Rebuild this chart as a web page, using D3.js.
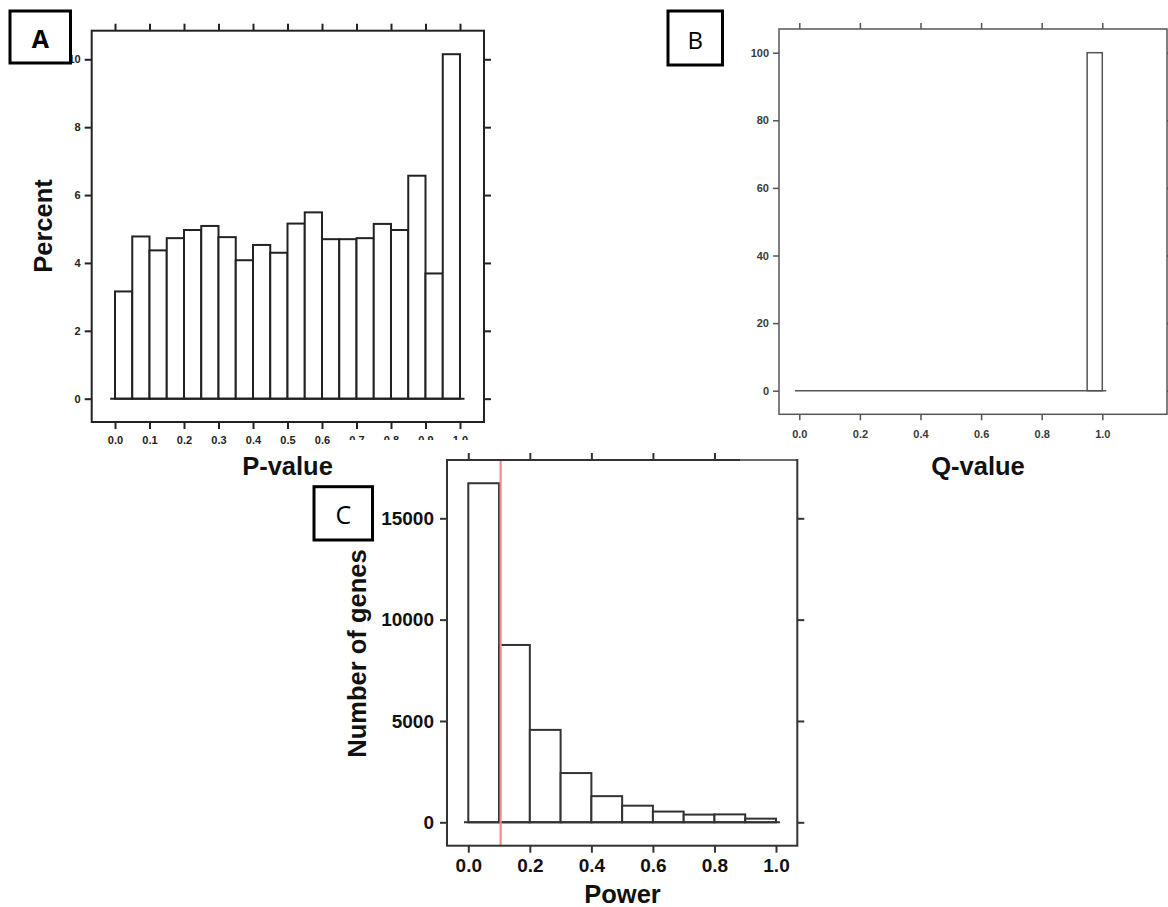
<!DOCTYPE html>
<html><head><meta charset="utf-8">
<script src="https://cdn.jsdelivr.net/npm/d3@7"></script>
<style>
html,body{margin:0;padding:0;background:#fff;}
svg{display:block;}
</style></head>
<body>
<svg id="chart" width="1168" height="907"></svg>
<script>
// ---------- DATA ----------
// Panel A: P-value histogram (bin width 0.05), percent
const pBinStarts = [0.00,0.05,0.10,0.15,0.20,0.25,0.30,0.35,0.40,0.45,0.50,0.55,0.60,0.65,0.70,0.75,0.80,0.85,0.90,0.95];
const pPercent   = [3.16,4.78,4.37,4.73,4.97,5.09,4.76,4.08,4.53,4.30,5.16,5.49,4.70,4.70,4.73,5.15,4.97,6.57,3.69,10.15];
const pXTicks = ["0.0","0.1","0.2","0.3","0.4","0.5","0.6","0.7","0.8","0.9","1.0"];
const pYTicks = [0,2,4,6,8,10];

// Panel B: Q-value histogram (bin width 0.05), percent
const qBinStarts = [0.00,0.05,0.10,0.15,0.20,0.25,0.30,0.35,0.40,0.45,0.50,0.55,0.60,0.65,0.70,0.75,0.80,0.85,0.90,0.95];
const qPercent   = [0,0,0,0,0,0,0,0,0,0,0,0,0,0,0,0,0,0,0,100];
const qXTicks = ["0.0","0.2","0.4","0.6","0.8","1.0"];
const qYTicks = [0,20,40,60,80,100];

// Panel C: Power histogram (bin width 0.1), number of genes
const powBinStarts = [0.0,0.1,0.2,0.3,0.4,0.5,0.6,0.7,0.8,0.9];
const powCounts    = [16730,8750,4560,2430,1290,820,530,380,390,180];
const powXTicks = ["0.0","0.2","0.4","0.6","0.8","1.0"];
const powYTicks = [0,5000,10000,15000];
const powThreshold = 0.105;

const panelLabels = ["A","B","C"];
const axisTitles = {A:["P-value","Percent"], B:["Q-value",""], C:["Power","Number of genes"]};

// ---------- DRAW ----------
const svg = d3.select("#chart");
const FONT = "'Liberation Sans', Arial, Helvetica, sans-serif";

function drawPanel(cfg){
  const g = svg.append("g");
  if (cfg.bg) {
    g.append("rect").attr("x",cfg.bg[0]).attr("y",cfg.bg[1]).attr("width",cfg.bg[2]).attr("height",cfg.bg[3]).attr("fill","#fff");
  }
  const x = d3.scaleLinear().domain([0,1]).range(cfg.xr);
  const y = d3.scaleLinear().domain([0,cfg.ymax]).range(cfg.yr);
  const [fx0,fy0,fx1,fy1] = cfg.frame;
  const col = cfg.color, sw = cfg.sw, tl = cfg.tickLen;

  // bars
  g.selectAll("rect.bar").data(cfg.starts.map((s,i)=>({s, v:cfg.values[i]})).filter(d=>d.v>0))
    .join("rect").attr("class","bar")
    .attr("x",d=>x(d.s)).attr("width",d=>x(d.s+cfg.bw)-x(d.s))
    .attr("y",d=>y(d.v)).attr("height",d=>y(0)-y(d.v))
    .attr("fill","#fff").attr("stroke",col).attr("stroke-width",sw);
  // baseline
  g.append("line").attr("x1",x(-0.014)).attr("x2",x(1.013)).attr("y1",y(0)).attr("y2",y(0))
    .attr("stroke",col).attr("stroke-width",sw);

  // reference line
  if (cfg.vline!=null){
    g.append("line").attr("x1",x(cfg.vline)).attr("x2",x(cfg.vline)).attr("y1",fy0).attr("y2",fy1)
      .attr("stroke","#f28a8c").attr("stroke-width",2.2);
  }

  // frame
  g.append("rect").attr("x",fx0).attr("y",fy0).attr("width",fx1-fx0).attr("height",fy1-fy0)
    .attr("fill","none").attr("stroke",col).attr("stroke-width",sw);
  if (cfg.fadeTop) {
    g.append("line").attr("x1",cfg.fadeTop).attr("x2",fx1-1).attr("y1",fy0).attr("y2",fy0)
      .attr("stroke","#6a6a6a").attr("stroke-width",sw);
  }

  // bottom axis
  const xTickVals = cfg.xticks.map(Number);
  const bx = d3.axisBottom(x).tickValues(xTickVals).tickSize(tl).tickSizeOuter(0).tickPadding(cfg.xpad)
    .tickFormat((d,i)=>cfg.xticks[i]);
  const gb = g.append("g").attr("transform",`translate(0,${fy1})`).call(bx);
  gb.select(".domain").remove();
  gb.selectAll("line").attr("stroke",col).attr("stroke-width",sw);
  gb.selectAll("text").attr("font-family",FONT).attr("font-size",cfg.fs).attr("font-weight","bold").attr("fill",cfg.tcol);

  // top ticks
  const topVals = cfg.topTicks ? cfg.topTicks : xTickVals;
  const tx = d3.axisTop(x).tickValues(topVals).tickSize(tl).tickSizeOuter(0).tickFormat("");
  const gt = g.append("g").attr("transform",`translate(0,${fy0})`).call(tx);
  gt.select(".domain").remove();
  gt.selectAll("line").attr("stroke",col).attr("stroke-width",sw);

  // left axis
  const ly = d3.axisLeft(y).tickValues(cfg.yticks).tickSize(tl).tickSizeOuter(0).tickPadding(cfg.ypad)
    .tickFormat(d3.format("d"));
  const gl = g.append("g").attr("transform",`translate(${fx0},0)`).call(ly);
  gl.select(".domain").remove();
  gl.selectAll("line").attr("stroke",col).attr("stroke-width",sw);
  gl.selectAll("text").attr("font-family",FONT).attr("font-size",cfg.fs).attr("font-weight","bold").attr("fill",cfg.tcol);

  // right ticks
  const ry = d3.axisRight(y).tickValues(cfg.yticks).tickSize(tl).tickSizeOuter(0).tickFormat("");
  const gr = g.append("g").attr("transform",`translate(${fx1},0)`).call(ry);
  gr.select(".domain").remove();
  gr.selectAll("line").attr("stroke",col).attr("stroke-width",sw);

  // axis titles
  g.append("text").attr("x",cfg.xt[0]).attr("y",cfg.xt[1]).attr("text-anchor","middle")
    .attr("dominant-baseline","central")
    .attr("font-family",FONT).attr("font-size",25.5).attr("font-weight","bold").attr("fill","#111")
    .text(cfg.titles[0]);
  if (cfg.titles[1]) {
    g.append("text").attr("transform",`translate(${cfg.yt[0]},${cfg.yt[1]}) rotate(-90)`)
      .attr("text-anchor","middle").attr("dominant-baseline","central")
      .attr("font-family",FONT).attr("font-size",25.5).attr("font-weight","bold").attr("fill","#111")
      .text(cfg.titles[1]);
  }

  // panel label box
  const [bx0,by0,bx1,by1] = cfg.box;
  g.append("rect").attr("x",bx0).attr("y",by0).attr("width",bx1-bx0).attr("height",by1-by0)
    .attr("fill","#fff").attr("stroke","#000").attr("stroke-width",3);
  g.append("text").attr("x",(bx0+bx1)/2).attr("y",(by0+by1)/2+1).attr("text-anchor","middle")
    .attr("dominant-baseline","central")
    .attr("font-family","'Open Sans', 'Liberation Sans', sans-serif").attr("font-size",cfg.boxFs)
    .attr("font-weight",cfg.boxBold?"bold":"normal").attr("fill","#000").text(cfg.label);
}

// Panel A
drawPanel({
  starts:pBinStarts, values:pPercent, bw:0.05, ymax:10,
  xr:[115,460], yr:[398.7,59.3], frame:[91.7,30.7,484,422],
  xticks:pXTicks, yticks:pYTicks, color:"#222", sw:2, tickLen:7, fs:11, tcol:"#222",
  xpad:7, ypad:4, xt:[287.5,466], yt:[43,226], titles:axisTitles.A,
  box:[10,11,70.5,63], label:panelLabels[0], boxFs:25, boxBold:true
});
// Panel B
drawPanel({
  starts:qBinStarts, values:qPercent, bw:0.05, ymax:100,
  xr:[799.3,1102.3], yr:[390.7,52.7], frame:[779,29,1167,414.3],
  xticks:qXTicks, yticks:qYTicks, color:"#555", sw:1.5, tickLen:6, fs:11, tcol:"#3a3a3a",
  xpad:10, ypad:4, xt:[978,466], yt:[0,0], titles:axisTitles.B,
  box:[668,11,722.5,65], label:panelLabels[1], boxFs:24, boxBold:false
});
// Panel C (its white background overlaps panel A's lower right corner)
drawPanel({
  bg:[338,440,482,467],
  starts:powBinStarts, values:powCounts, bw:0.1, ymax:15000,
  xr:[468.3,776], yr:[822.3,518.3], frame:[447,460,797.3,845.7],
  xticks:powXTicks, yticks:powYTicks, topTicks:[0,0.2,0.4,0.6,0.8], fadeTop:740,
  color:"#333", sw:2, tickLen:7, fs:19, tcol:"#111",
  xpad:6, ypad:6, xt:[622.5,894], yt:[357,653.5], titles:axisTitles.C,
  box:[314,486.7,372.5,540], label:panelLabels[2], boxFs:25, boxBold:false, vline:powThreshold
});
</script>
</body></html>
